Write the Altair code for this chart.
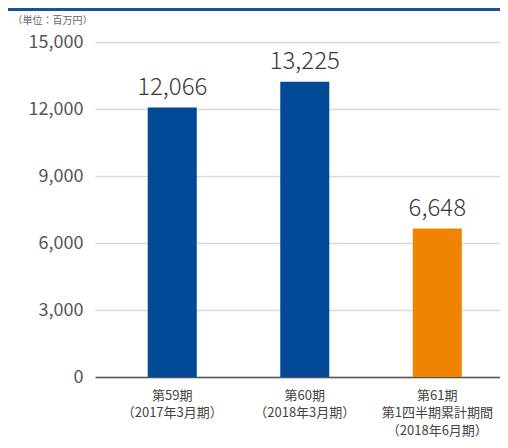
import altair as alt
import pandas as pd

periods = ["第59期|（2017年3月期）", "第60期|（2018年3月期）", "第61期|第1四半期累計期間|（2018年6月期）"]
values = [12066, 13225, 6648]
bar_colors = ["#004a98", "#004a98", "#f08300"]
y_ticks = [0, 3000, 6000, 9000, 12000, 15000]
unit_label = "（単位：百万円）"

df = pd.DataFrame({"period": periods, "value": values, "color": bar_colors})

FONT = "Noto Sans CJK JP"
W, H = 405, 335
TOP = 34

x = alt.X("period:N", sort=periods,
          scale=alt.Scale(paddingInner=0.63, paddingOuter=0.343, align=0.58),
          axis=alt.Axis(title=None, labelExpr="split(datum.label, '|')", labelAngle=0,
                        labelFontSize=13, labelLineHeight=17.5, labelColor="#444",
                        labelFont=FONT, labelPadding=12, ticks=False, domainColor="#555",
                        domainWidth=1.5, labelOverlap=False, labelBound=False))
y = alt.Y("value:Q", scale=alt.Scale(domain=[0, 15000], nice=False),
          axis=alt.Axis(values=y_ticks, format=",.0f", title=unit_label, titleAngle=0,
                        titleX=-83, titleY=-22, titleAlign="left", titleBaseline="middle",
                        titleFontSize=10, titleFontWeight="normal", titleColor="#666", titleFont=FONT,
                        labelFontSize=18, labelColor="#555", labelFont=FONT, labelPadding=12,
                        ticks=False, domain=False, gridColor="#d9d9d9", gridWidth=1.5))

base = alt.Chart(df)
bars = base.mark_bar().encode(x=x, y=y, color=alt.Color("color:N", scale=None))
labels = base.mark_text(dy=-8, baseline="bottom", fontSize=24, color="#3a3a3a", font=FONT,
                        fontWeight=300).encode(
    x=alt.X("period:N", sort=periods), y="value:Q", text=alt.Text("value:Q", format=",.0f"))
topline = alt.Chart(df).mark_rule(color="#1c4f9c", strokeWidth=3, clip=False).encode(
    x=alt.value(-87), x2=alt.value(W), y=alt.value(-(TOP - 1.5)))

chart = alt.layer(bars, labels, topline).properties(
    width=W, height=H,
    autosize=alt.AutoSizeParams(type="none"),
    padding={"left": 87, "top": TOP, "right": 0, "bottom": 432 - TOP - H},
).configure_view(stroke=None)

chart.save("out.html", embed_options={"renderer": "svg", "actions": False})
